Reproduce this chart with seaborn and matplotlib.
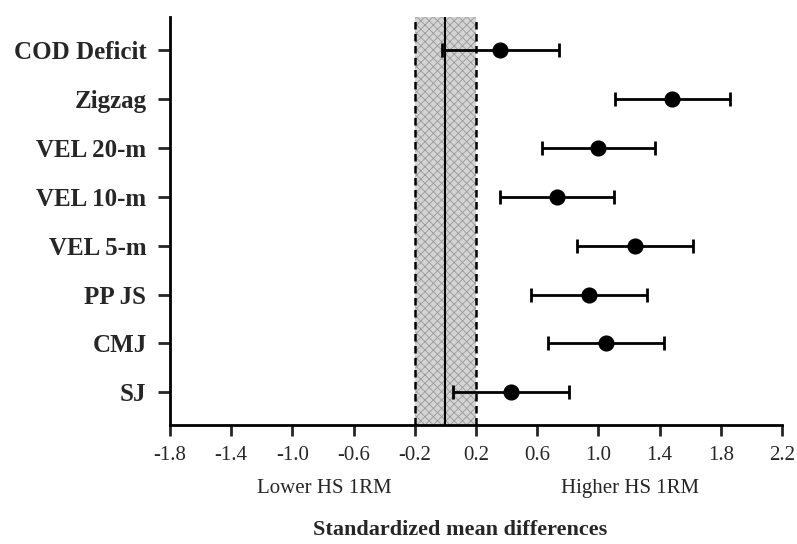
import matplotlib
matplotlib.use("Agg")
import matplotlib.pyplot as plt
import seaborn as sns
import pandas as pd
import numpy as np

categories = ["COD Deficit", "Zigzag", "VEL 20-m", "VEL 10-m", "VEL 5-m", "PP JS", "CMJ", "SJ"]
smd = [0.36, 1.48, 1.00, 0.73, 1.24, 0.94, 1.05, 0.43]
ci_low = [-0.02, 1.11, 0.63, 0.36, 0.86, 0.56, 0.67, 0.05]
ci_high = [0.74, 1.86, 1.37, 1.10, 1.62, 1.32, 1.43, 0.81]
xtick_values = [-1.8, -1.4, -1.0, -0.6, -0.2, 0.2, 0.6, 1.0, 1.4, 1.8, 2.2]
xtick_labels = ["-1.8", "-1.4", "-1.0", "-0.6", "-0.2", "0.2", "0.6", "1.0", "1.4", "1.8", "2.2"]
trivial_band = [-0.2, 0.2]

sns.set_style("white")
plt.rcParams['font.family'] = ['Liberation Serif', 'DejaVu Serif']
plt.rcParams['hatch.color'] = '#9a9a9a'
plt.rcParams['hatch.linewidth'] = 0.6

df = pd.DataFrame({"cat": categories, "smd": smd, "lo": ci_low, "hi": ci_high})
df["pos"] = np.arange(len(df))

fig = plt.figure(figsize=(7.97, 5.44), dpi=100)
ax = fig.add_axes([170/797, 1-425/544, (782-170)/797, (425-17)/544])

# trivial band
ax.axvspan(trivial_band[0], trivial_band[1], facecolor='#d4d4d4', hatch='xxxx',
           edgecolor='#9a9a9a', linewidth=0, zorder=0)
for v in trivial_band:
    ax.axvline(v, color='black', lw=1.8, ls=(0, (3, 1.8)), zorder=1)
ax.axvline(0, color='black', lw=1.5, zorder=1)

ax.errorbar(df["smd"], df["pos"],
            xerr=[df["smd"] - df["lo"], df["hi"] - df["smd"]],
            fmt='none', ecolor='black', elinewidth=2, capsize=4.7, capthick=2, zorder=2)
sns.scatterplot(data=df, x="smd", y="pos", color='black', s=135, edgecolor='black',
                linewidth=0, zorder=3, ax=ax, legend=False)

ax.set_xlim(-1.8, 2.2)
ax.set_ylim(7.67, -0.68)
ax.set_xticks(xtick_values)
ax.set_xticklabels(xtick_labels, fontsize=15)
ax.set_yticks(df["pos"])
ax.set_yticklabels(categories, fontsize=18, fontweight='bold')
ax.set_xlabel("")
ax.set_ylabel("")

for side in ["top", "right"]:
    ax.spines[side].set_visible(False)
for side in ["left", "bottom"]:
    ax.spines[side].set_linewidth(2)
    ax.spines[side].set_color('black')
ax.tick_params(axis='x', direction='out', length=8, width=2, pad=7, bottom=True)
ax.tick_params(axis='y', direction='out', length=9, width=2, pad=8, left=True)

fig.text(324/797, 1-493/544, "Lower HS 1RM", ha='center', va='baseline', fontsize=15)
fig.text(630/797, 1-493/544, "Higher HS 1RM", ha='center', va='baseline', fontsize=15)
fig.text(460/797, 1-530/544, "Standardized mean differences", ha='center', va='center',
         fontsize=16, fontweight='bold')

fig.savefig("out.png", dpi=100)
